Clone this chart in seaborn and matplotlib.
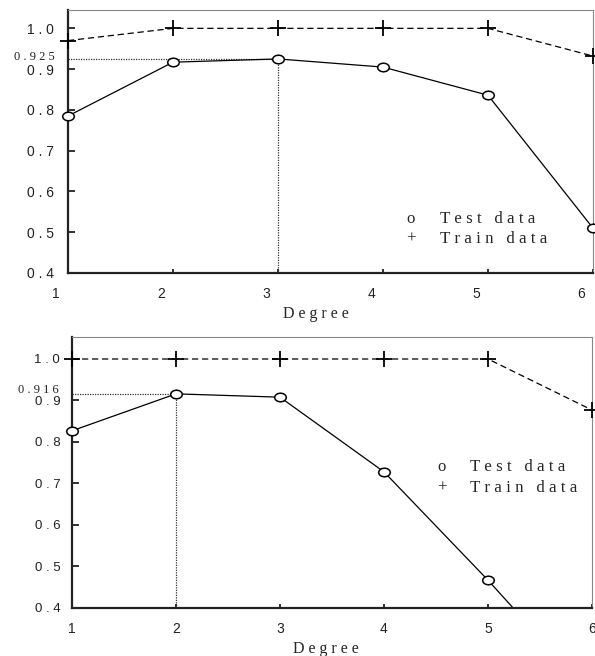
import numpy as np
import pandas as pd
import matplotlib
matplotlib.use("Agg")
import matplotlib.pyplot as plt
import matplotlib.transforms as mtransforms
from matplotlib.path import Path
import seaborn as sns

# ---------------- data ----------------
degree = [1, 2, 3, 4, 5, 6]
test_top = [0.785, 0.917, 0.925, 0.905, 0.836, 0.51]
train_top = [0.97, 1.0, 1.0, 1.0, 1.0, 0.932]
best_top = (3, 0.925)
test_bottom = [0.827, 0.916, 0.908, 0.728, 0.467, 0.19]
train_bottom = [1.0, 1.0, 1.0, 1.0, 1.0, 0.877]
best_bottom = (2, 0.916)
yticks = [0.4, 0.5, 0.6, 0.7, 0.8, 0.9, 1.0]
ytick_labels = ["0 . 4", "0 . 5", "0 . 6", "0 . 7", "0 . 8", "0 . 9", "1 . 0"]
xtick_labels = ["1", "2", "3", "4", "5", "6"]
best_labels = ["0 . 9 2 5", "0 . 9 1 6"]
legend_labels = ["T e s t   d a t a", "T r a i n   d a t a"]
xlabel = "D e g r e e"

sns.set_style("white")
sans = ["Liberation Sans", "DejaVu Sans"]
serif = ["Liberation Serif", "DejaVu Serif"]
plt.rcParams["font.family"] = sans

fig = plt.figure(figsize=(5.95, 6.56), dpi=100)
ax1 = fig.add_axes([68 / 595, 1 - 273 / 656, (593 - 68) / 595, (273 - 10) / 656])
ax2 = fig.add_axes([72 / 595, 1 - 608 / 656, (592 - 72) / 595, (608 - 337) / 656])

t = np.linspace(0, 2 * np.pi, 13)
ell = Path(np.column_stack([1.35 * np.cos(t), np.sin(t)]), closed=True)


def panel(ax, test, train, best, ytop, best_label, ylab_size, ypad, xshift_px,
          xlab_pos, leg_pos, best_dy):
    df = pd.DataFrame({"degree": degree, "test": test, "train": train})
    # guide lines
    ax.plot([1, best[0]], [best[1], best[1]], color="#333333", lw=0.9,
            linestyle=(0, (1, 1)), zorder=1, clip_on=False)
    ax.plot([best[0], best[0]], [0.4, best[1]], color="#333333", lw=0.9,
            linestyle=(0, (1, 1)), zorder=1)
    # lines
    sns.lineplot(data=df, x="degree", y="train", ax=ax, color="black", lw=0.9,
                 linestyle=(0, (5, 3)), zorder=2)
    sns.lineplot(data=df, x="degree", y="test", ax=ax, color="black", lw=0.9,
                 zorder=2)
    # markers (only those inside the visible range)
    vis = df[df["test"] >= 0.4]
    sns.lineplot(data=vis, x="degree", y="test", ax=ax, linestyle="none",
                 marker=ell, markersize=8.5, markerfacecolor="white",
                 markeredgecolor="black", markeredgewidth=1.1, clip_on=False,
                 zorder=4)
    sns.lineplot(data=df, x="degree", y="train", ax=ax, linestyle="none",
                 marker="+", markersize=11, markeredgecolor="black",
                 markeredgewidth=1.3, clip_on=False, zorder=4)

    ax.set_xlim(1, 6)
    ax.set_ylim(0.4, ytop)
    ax.set_yticks(yticks)
    ax.set_yticklabels(ytick_labels, fontsize=ylab_size, family=sans)
    ax.set_xticks(degree)
    ax.set_xticklabels(xtick_labels, fontsize=10, family=sans)
    ax.tick_params(axis="y", direction="in", length=5, width=1.3, pad=ypad,
                   left=True, colors="#222222")
    ax.tick_params(axis="x", direction="in", length=3, width=1.3, pad=10,
                   bottom=True, colors="#222222")
    if xshift_px:
        off = mtransforms.ScaledTranslation(xshift_px / 100, 0, fig.dpi_scale_trans)
        for lab in ax.get_xticklabels():
            lab.set_transform(lab.get_transform() + off)
    for s in ["left", "bottom"]:
        ax.spines[s].set_color("#222222")
        ax.spines[s].set_linewidth(1.6)
    for s in ["top", "right"]:
        ax.spines[s].set_color("#888888")
        ax.spines[s].set_linewidth(0.8)
    ax.set_ylabel("")
    ax.set_xlabel(xlabel, fontsize=11.5, family=serif)
    ax.xaxis.set_label_coords(*xlab_pos)

    ax.annotate(best_label, xy=(0, best[1]), xycoords=("axes fraction", "data"),
                xytext=(-13, best_dy), textcoords="offset pixels", ha="right",
                va="center", fontsize=9, family=serif, color="#222222")

    lx_sym, lx_txt, ly1, ly2 = leg_pos
    ax.text(lx_sym, ly1, "o", transform=ax.transAxes, fontsize=12.2,
            family=serif, va="center", ha="left")
    ax.text(lx_txt, ly1, legend_labels[0], transform=ax.transAxes, fontsize=12.2,
            family=serif, va="center", ha="left")
    ax.text(lx_sym, ly2, "+", transform=ax.transAxes, fontsize=12.2,
            family=serif, va="center", ha="left")
    ax.text(lx_txt, ly2, legend_labels[1], transform=ax.transAxes, fontsize=12.2,
            family=serif, va="center", ha="left")


panel(ax1, test_top, train_top, best_top, 1.045, best_labels[0], 10, 10, -12,
      (0.472, -0.125), (0.644, 0.709, 0.205, 0.129), 2)
panel(ax2, test_bottom, train_bottom, best_bottom, 1.053, best_labels[1], 9.5, 8.5, 0,
      (0.488, -0.12), (0.702, 0.765, 0.520, 0.443), 4)

fig.savefig("out.png", dpi=100)
